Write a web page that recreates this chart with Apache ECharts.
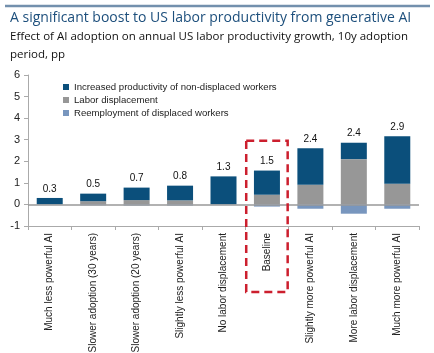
<!DOCTYPE html>
<html>
<head>
<meta charset="utf-8">
<script src="https://cdn.jsdelivr.net/npm/echarts@6/dist/echarts.min.js"></script>
<style>
html, body { margin: 0; padding: 0; background: #fff; }
#main { width: 434px; height: 353px; }
</style>
</head>
<body>
<div id="main"></div>
<script>
// 情景
var categories = ['Much less powerful AI', 'Slower adoption (30 years)', 'Slower adoption (20 years)',
	'Slightly less powerful AI', 'No labor displacement', 'Baseline',
	'Slightly more powerful AI', 'More labor displacement', 'Much more powerful AI'];
// 非替代工人生产率
var productivity = [0.3, 0.35, 0.58, 0.68, 1.3, 1.12, 1.7, 0.76, 2.2];
// 劳动替代
var displacement = [0, 0.15, 0.2, 0.19, 0, 0.45, 0.91, 2.1, 0.96];
// 再就业
var reemployment = [0, -0.04, -0.05, -0.05, 0, -0.1, -0.2, -0.43, -0.2];
// 合计标签
var totals = ['0.3', '0.5', '0.7', '0.8', '1.3', '1.5', '2.4', '2.4', '2.9'];

var chart = echarts.init(document.getElementById('main'));
var font = 'Liberation Sans, Arial, sans-serif';

var option = {
	backgroundColor: '#ffffff',
	animation: false,
	textStyle: { fontFamily: font },
	title: [
		{
			text: 'A significant boost to US labor productivity from generative AI',
			left: 5, top: 6,
			textStyle: { fontFamily: 'Open Sans', fontSize: 14, fontWeight: 'normal', color: '#1d4f7c' }
		},
		{
			text: 'Effect of AI adoption on annual US labor productivity growth, 10y adoption\nperiod, pp',
			left: 5, top: 23,
			textStyle: { fontFamily: 'Open Sans', fontSize: 11.5, fontWeight: 'normal', color: '#111', lineHeight: 18 }
		}
	],
	legend: {
		orient: 'vertical',
		left: 58, top: 77,
		icon: 'rect',
		itemWidth: 6, itemHeight: 6,
		itemGap: 3,
		textStyle: { fontSize: 9.6, color: '#222', fontFamily: font },
		data: ['Increased productivity of non-displaced workers', 'Labor displacement', 'Reemployment of displaced workers']
	},
	grid: { left: 28, right: 15, top: 75, bottom: 127, outerBoundsMode: 'none', containLabel: false },
	xAxis: {
		type: 'category',
		data: categories,
		axisLine: { onZero: false, lineStyle: { color: '#aaa' } },
		axisTick: { show: true, alignWithLabel: false, length: 4, lineStyle: { color: '#aaa' } },
		axisLabel: { rotate: 90, fontSize: 10, color: '#222', margin: 7, interval: 0 }
	},
	yAxis: {
		type: 'value',
		min: -1, max: 6, interval: 1,
		splitLine: { show: false },
		axisLine: { show: true, lineStyle: { color: '#aaa' } },
		axisTick: { show: true, length: 4, lineStyle: { color: '#aaa' } },
		axisLabel: { fontSize: 11, color: '#222', margin: 8 }
	},
	series: [
		{
			name: 'Labor displacement',
			type: 'bar', stack: 'a', barWidth: 26,
			itemStyle: { color: '#979797' },
			data: displacement,
			markLine: {
				silent: true, symbol: 'none',
				label: { show: false },
				lineStyle: { color: '#999', type: 'solid', width: 1.5 },
				data: [{ yAxis: 0 }]
			}
		},
		{
			name: 'Increased productivity of non-displaced workers',
			type: 'bar', stack: 'a', barWidth: 26,
			itemStyle: { color: '#0b4f7b' },
			label: {
				show: true, position: 'top', distance: 4,
				fontSize: 10, color: '#111',
				formatter: function (p) { return totals[p.dataIndex]; }
			},
			data: productivity
		},
		{
			name: 'Reemployment of displaced workers',
			type: 'bar', stack: 'a', barWidth: 26,
			itemStyle: { color: '#7896be' },
			data: reemployment
		}
	]
};
chart.setOption(option);

// 红色虚线框 Baseline
var c = chart.convertToPixel({ xAxisIndex: 0, yAxisIndex: 0 }, [5, 2.95]);
var c2 = chart.convertToPixel({ xAxisIndex: 0, yAxisIndex: 0 }, [6, 2.95]);
var half = (c2[0] - c[0]) / 2 - 1;
chart.setOption({
	graphic: [
		{
			type: 'rect', silent: true,
			shape: { x: c[0] - half, y: c[1], width: half * 2, height: 292 - c[1] },
			style: { fill: null, stroke: '#cc1f2e', lineWidth: 2.5, lineDash: [8, 5] },
			z: 100
		},
		{
			type: 'line', silent: true,
			shape: { x1: 5, y1: 6, x2: 430, y2: 6 },
			style: { stroke: '#7390ad', lineWidth: 2.5 }
		}
	]
});
</script>
</body>
</html>
